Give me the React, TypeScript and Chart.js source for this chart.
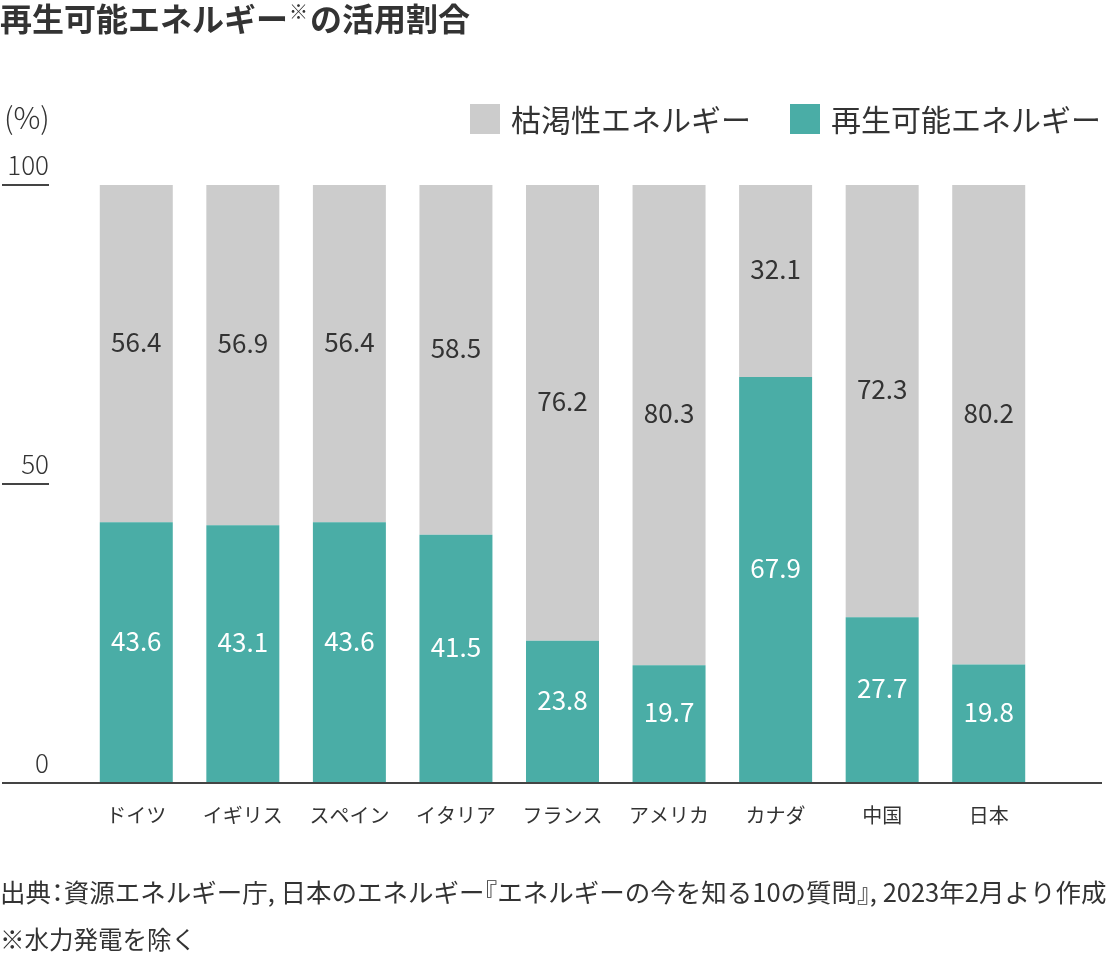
import React, { useEffect, useRef } from "react";
import { Chart, registerables } from "chart.js";

Chart.register(...registerables);

const categories = ["ドイツ", "イギリス", "スペイン", "イタリア", "フランス", "アメリカ", "カナダ", "中国", "日本"];
const renewable = [43.6, 43.1, 43.6, 41.5, 23.8, 19.7, 67.9, 27.7, 19.8];
const depletable = [56.4, 56.9, 56.4, 58.5, 76.2, 80.3, 32.1, 72.3, 80.2];
const yTicks = [0, 50, 100];
const seriesNames = ["枯渇性エネルギー", "再生可能エネルギー"];
const titleMain = "再生可能エネルギー";
const titleMark = "※";
const titleRest = "の活用割合";
const unitLabel = "(%)";
const sourceParts = ["出典", "：", "資源エネルギー庁, 日本のエネルギー", "『", "エネルギーの今を知る10の質問", "』", ", 2023年2月より作成"];
const footNote = "※水力発電を除く";

const FONT = '"Noto Sans CJK JP", "Noto Sans", sans-serif';
const TEXT = "#333333";
const GRAY = "#cccccc";
const TEAL = "#4aada6";

const overlay = {
  id: "overlay",
  afterDatasetsDraw(chart: any) {
    const ctx = chart.ctx;
    const x = chart.scales.x;
    const y = chart.scales.y;
    ctx.save();
    // data labels
    ctx.textAlign = "center";
    ctx.textBaseline = "middle";
    ctx.font = `400 26px ${FONT}`;
    categories.forEach((_, i) => {
      const cx = x.getPixelForValue(i);
      const r = renewable[i];
      const d = depletable[i];
      const y0 = y.getPixelForValue(0);
      const y1 = y.getPixelForValue(r);
      const y2 = y.getPixelForValue(r + d);
      ctx.fillStyle = "#ffffff";
      ctx.fillText(r.toFixed(1), cx, (y0 + y1) / 2 - 12);
      ctx.fillStyle = TEXT;
      ctx.fillText(d.toFixed(1), cx, (y1 + y2) / 2 - 12);
    });
    // x labels
    ctx.font = `400 20px ${FONT}`;
    ctx.fillStyle = TEXT;
    categories.forEach((c, i) => {
      ctx.fillText(c, x.getPixelForValue(i), 815);
    });
    // y ticks
    ctx.font = `300 26px ${FONT}`;
    ctx.textAlign = "right";
    ctx.strokeStyle = "#444444";
    ctx.lineWidth = 2;
    yTicks.forEach((t) => {
      const py = y.getPixelForValue(t);
      ctx.fillText(String(t), 49, py - 20);
      ctx.beginPath();
      if (t === 0) {
        ctx.moveTo(2, py);
        ctx.lineTo(1102, py);
      } else {
        ctx.moveTo(2, py);
        ctx.lineTo(49, py);
      }
      ctx.stroke();
    });
    ctx.textAlign = "left";
    ctx.font = `300 30px ${FONT}`;
    ctx.fillText(unitLabel, 4, 118);
    // legend
    ctx.font = `400 30px ${FONT}`;
    ctx.fillStyle = GRAY;
    ctx.fillRect(470, 104, 30, 30);
    ctx.fillStyle = TEXT;
    ctx.fillText(seriesNames[0], 511, 120);
    ctx.fillStyle = TEAL;
    ctx.fillRect(790, 104, 30, 30);
    ctx.fillStyle = TEXT;
    ctx.fillText(seriesNames[1], 831, 120);
    // title
    ctx.font = `700 32px ${FONT}`;
    ctx.fillText(titleMain, 0, 19);
    let tx = ctx.measureText(titleMain).width;
    ctx.font = `700 19px ${FONT}`;
    ctx.fillText(titleMark, tx + 1, 12);
    tx += ctx.measureText(titleMark).width + 3;
    ctx.font = `700 32px ${FONT}`;
    ctx.fillText(titleRest, tx, 19);
    // footnotes
    ctx.font = `400 25.5px ${FONT}`;
    let fx = 0;
    sourceParts.forEach((p) => {
      const w = ctx.measureText(p).width;
      if (p === "：") {
        ctx.fillText(p, fx - w * 0.25, 892);
        fx += w * 0.5;
      } else if (p === "『") {
        ctx.fillText(p, fx - w * 0.5, 892);
        fx += w * 0.5;
      } else if (p === "』") {
        ctx.fillText(p, fx, 892);
        fx += w * 0.5;
      } else {
        ctx.fillText(p, fx, 892);
        fx += w;
      }
    });
    ctx.font = `400 24.5px ${FONT}`;
    ctx.fillText(footNote, 0, 940);
    ctx.restore();
  },
};

export default function App() {
  const ref = useRef<HTMLCanvasElement>(null);
  useEffect(() => {
    if (!ref.current) return;
    const chart = new Chart(ref.current, {
      type: "bar",
      data: {
        labels: categories,
        datasets: [
          { label: seriesNames[1], data: renewable, backgroundColor: TEAL, borderWidth: 0 },
          { label: seriesNames[0], data: depletable, backgroundColor: GRAY, borderWidth: 0 },
        ],
      },
      options: {
        responsive: false,
        animation: false,
        devicePixelRatio: 1,
        layout: { padding: { left: 83, right: 68, top: 185, bottom: 195 } },
        datasets: { bar: { categoryPercentage: 0.685, barPercentage: 1 } },
        scales: {
          x: { stacked: true, display: false },
          y: { stacked: true, display: false, min: 0, max: 100 },
        },
        plugins: { legend: { display: false }, tooltip: { enabled: false }, title: { display: false } },
      },
      plugins: [overlay],
    });
    return () => chart.destroy();
  }, []);
  return (
    <div style={{ position: "absolute", left: 0, top: 0, width: 1110, height: 978, background: "#fff" }}>
      <canvas ref={ref} width={1110} height={978} style={{ width: 1110, height: 978 }} />
    </div>
  );
}
